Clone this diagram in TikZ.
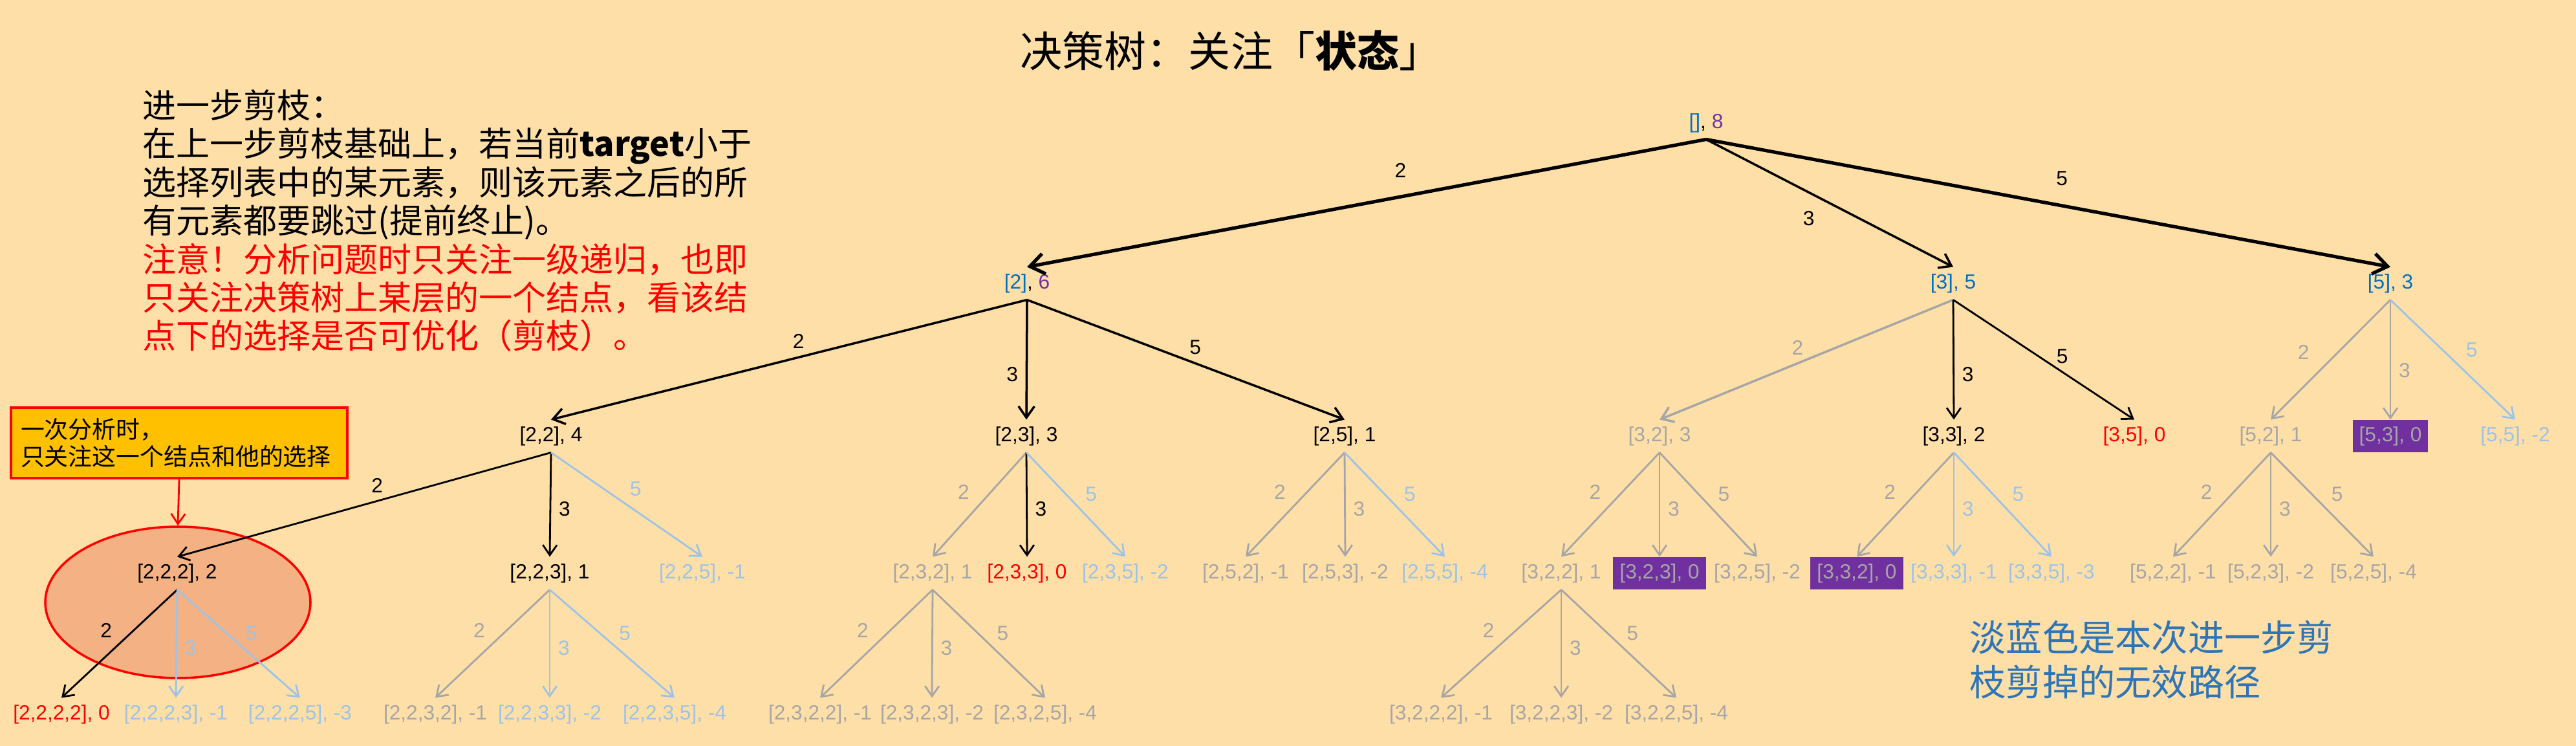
\documentclass[tikz,border=0pt]{standalone}
\usepackage{fontspec}
\setmainfont{Noto Sans CJK SC}
\newfontfamily\lblfont{Liberation Sans}
\usetikzlibrary{arrows.meta}
\usetikzlibrary{shapes.geometric}
\definecolor{bgcol}{HTML}{FFDFA8}
\definecolor{nblue}{HTML}{0070C0}
\definecolor{npurple}{HTML}{7030A0}
\definecolor{ngray}{HTML}{A6A6A6}
\definecolor{nlblue}{HTML}{9DC3E6}
\definecolor{nred}{HTML}{FF0000}
\definecolor{tipfill}{HTML}{FFC000}
\definecolor{focusfill}{HTML}{F4B183}
\definecolor{notecol}{HTML}{2E75B6}

\begin{document}
\begin{tikzpicture}[font=\lblfont\fontsize{9pt}{10.5pt}\selectfont]
                \tikzstyle{st} = [inner sep=0.1cm]
                \tikzstyle{stgray} = [st, text=ngray]
                \tikzstyle{stlb} = [st, text=nlblue]
                \tikzstyle{stred} = [st, text=nred]
                \tikzstyle{stdup} = [st, fill=npurple, text=ngray]
                \tikzstyle{stroot} = [st, text=nblue]
                \tikzstyle{br} = [-{Straight Barb[length=2.5pt 2.5, width=3pt 4]}, line width=0.8pt]
                \tikzstyle{brgray} = [br, ngray]
                \tikzstyle{brlb} = [br, nlblue]
                \tikzstyle{l2} = [pos=0.38, left=0.2cm]
                \tikzstyle{l3} = [pos=0.54, right]
                \tikzstyle{l5} = [pos=0.4, right=0.17cm]
                \tikzstyle{cjk} = [font=\rmfamily]
                % background
                \fill[bgcol] (0,0) rectangle (39.83,-11.53);
                % texts
                \node[cjk, font=\rmfamily\fontsize{18.5pt}{22pt}\selectfont] (title) at (19.03,-0.78) {决策树：关注「\textbf{状态}」};
                \node[anchor=north west, inner sep=0pt, align=left, font=\rmfamily\fontsize{14.8pt}{16.9pt}\selectfont] (intro) at (2.20,-1.38) {进一步剪枝：\\在上一步剪枝基础上，若当前\textbf{target}小于\\选择列表中的某元素，则该元素之后的所\\有元素都要跳过(提前终止)。\\\textcolor{nred}{注意！分析问题时只关注一级递归，也即}\\\textcolor{nred}{只关注决策树上某层的一个结点，看该结}\\\textcolor{nred}{点下的选择是否可优化（剪枝）。}};
                \node[anchor=north west, inner sep=0pt, align=left, text=notecol, font=\rmfamily\fontsize{16pt}{19.8pt}\selectfont] (note) at (30.45,-9.58) {淡蓝色是本次进一步剪\\枝剪掉的无效路径};
                % focus
                \node[ellipse, draw=nred, fill=focusfill, line width=1pt, minimum width=4.1cm, minimum height=2.34cm, inner sep=0pt] (focus) at (2.75,-9.31) {};
                \node[draw=nred, fill=tipfill, line width=1.2pt, text width=4.9cm, align=left, minimum height=1.09cm, inner xsep=0.15cm, font=\rmfamily\fontsize{10.5pt}{12.2pt}\selectfont] (tip) at (2.77,-6.845) {一次分析时，\\只关注这一个结点和他的选择};
                \draw[-{Straight Barb[length=2.5pt 2.5, width=3pt 4]}, nred, line width=0.8pt] (tip.south) -- (focus.north);
                % level 0 and 1
                \node[st] (r) at (26.38,-1.90) {\textcolor{nblue}{[]}, \textcolor{npurple}{8}};
                \node[st] (s2) at (15.88,-4.38) {\textcolor{nblue}{[2]}, \textcolor{npurple}{6}};
                \node[stroot] (s3) at (30.20,-4.38) {[3], 5};
                \node[stroot] (s5) at (36.96,-4.38) {[5], 3};
                % level 2
                \node[st] (s22) at (8.52,-6.74) {[2,2], 4};
                \node[st] (s23) at (15.87,-6.74) {[2,3], 3};
                \node[st] (s25) at (20.79,-6.74) {[2,5], 1};
                \node[stgray] (s32) at (25.66,-6.74) {[3,2], 3};
                \node[st] (s33) at (30.21,-6.74) {[3,3], 2};
                \node[stred] (s35) at (33.00,-6.74) {[3,5], 0};
                \node[stgray] (s52) at (35.11,-6.74) {[5,2], 1};
                \node[stdup] (s53) at (36.96,-6.74) {[5,3], 0};
                \node[stlb] (s55) at (38.89,-6.74) {[5,5], -2};
                % level 3
                \node[st] (s222) at (2.74,-8.86) {[2,2,2], 2};
                \node[st] (s223) at (8.50,-8.86) {[2,2,3], 1};
                \node[stlb] (s225) at (10.86,-8.86) {[2,2,5], -1};
                \node[stgray] (s232) at (14.42,-8.86) {[2,3,2], 1};
                \node[stred] (s233) at (15.88,-8.86) {[2,3,3], 0};
                \node[stlb] (s235) at (17.40,-8.86) {[2,3,5], -2};
                \node[stgray] (s252) at (19.26,-8.86) {[2,5,2], -1};
                \node[stgray] (s253) at (20.80,-8.86) {[2,5,3], -2};
                \node[stlb] (s255) at (22.34,-8.86) {[2,5,5], -4};
                \node[stgray] (s322) at (24.14,-8.86) {[3,2,2], 1};
                \node[stdup] (s323) at (25.66,-8.86) {[3,2,3], 0};
                \node[stgray] (s325) at (27.17,-8.86) {[3,2,5], -2};
                \node[stdup] (s332) at (28.71,-8.86) {[3,3,2], 0};
                \node[stlb] (s333) at (30.21,-8.86) {[3,3,3], -1};
                \node[stlb] (s335) at (31.72,-8.86) {[3,3,5], -3};
                \node[stgray] (s522) at (33.60,-8.86) {[5,2,2], -1};
                \node[stgray] (s523) at (35.11,-8.86) {[5,2,3], -2};
                \node[stgray] (s525) at (36.70,-8.86) {[5,2,5], -4};
                % level 4
                \node[stred] (s2222) at (0.95,-11.04) {[2,2,2,2], 0};
                \node[stlb] (s2223) at (2.72,-11.04) {[2,2,2,3], -1};
                \node[stlb] (s2225) at (4.64,-11.04) {[2,2,2,5], -3};
                \node[stgray] (s2232) at (6.73,-11.04) {[2,2,3,2], -1};
                \node[stlb] (s2233) at (8.50,-11.04) {[2,2,3,3], -2};
                \node[stlb] (s2235) at (10.43,-11.04) {[2,2,3,5], -4};
                \node[stgray] (s2322) at (12.68,-11.04) {[2,3,2,2], -1};
                \node[stgray] (s2323) at (14.41,-11.04) {[2,3,2,3], -2};
                \node[stgray] (s2325) at (16.16,-11.04) {[2,3,2,5], -4};
                \node[stgray] (s3222) at (22.28,-11.04) {[3,2,2,2], -1};
                \node[stgray] (s3223) at (24.14,-11.04) {[3,2,2,3], -2};
                \node[stgray] (s3225) at (25.92,-11.04) {[3,2,2,5], -4};
                % branches 0 -> 1
                \draw[br, line width=1.5pt] (r.south) -- node[pos=0.45, above=0.15cm] {2} (s2.north);
                \draw[br, line width=1pt] (r.south) -- node[pos=0.62, left=0.56cm] {3} (s3.north);
                \draw[br, line width=1.5pt] (r.south) -- node[pos=0.52, above=0.17cm] {5} (s5.north);
                % branches 1 -> 2
                \draw[br, line width=1pt] (s2.south) -- node[pos=0.48, above] {2} (s22.north);
                \draw[br, line width=1pt] (s2.south) -- node[pos=0.62, left] {3} (s23.north);
                \draw[br, line width=1pt] (s2.south) -- node[pos=0.53, above] {5} (s25.north);
                \draw[brgray, line width=1pt] (s3.south) -- node[pos=0.53, above] {2} (s32.north);
                \draw[br] (s3.south) -- node[pos=0.62, right] {3} (s33.north);
                \draw[br] (s3.south) -- node[pos=0.47, right=0.15cm] {5} (s35.north);
                \draw[brgray] (s5.south) -- node[pos=0.44, left=0.31cm] {2} (s52.north);
                \draw[brgray] (s5.south) -- node[pos=0.59, right] {3} (s53.north);
                \draw[brlb] (s5.south) -- node[pos=0.42, right=0.23cm] {5} (s55.north);
                % branches 2 -> 3
                \draw[br] (s22.south) -- node[pos=0.465, above] {2} (s222.north);
                \draw[br] (s22.south) -- node[l3] {3} (s223.north);
                \draw[brlb] (s22.south) -- node[pos=0.35, right=0.27cm] {5} (s225.north);
                \draw[brgray] (s23.south) -- node[l2] {2} (s232.north);
                \draw[br] (s23.south) -- node[l3] {3} (s233.north);
                \draw[brlb] (s23.south) -- node[l5] {5} (s235.north);
                \draw[brgray] (s25.south) -- node[l2] {2} (s252.north);
                \draw[brgray] (s25.south) -- node[l3] {3} (s253.north);
                \draw[brlb] (s25.south) -- node[l5] {5} (s255.north);
                \draw[brgray] (s32.south) -- node[l2] {2} (s322.north);
                \draw[brgray] (s32.south) -- node[l3] {3} (s323.north);
                \draw[brgray] (s32.south) -- node[l5] {5} (s325.north);
                \draw[brgray] (s33.south) -- node[l2] {2} (s332.north);
                \draw[brlb] (s33.south) -- node[l3] {3} (s333.north);
                \draw[brlb] (s33.south) -- node[l5] {5} (s335.north);
                \draw[brgray] (s52.south) -- node[l2] {2} (s522.north);
                \draw[brgray] (s52.south) -- node[l3] {3} (s523.north);
                \draw[brgray] (s52.south) -- node[l5] {5} (s525.north);
                % branches 3 -> 4
                \draw[br] (s222.south) -- node[l2] {2} (s2222.north);
                \draw[brlb] (s222.south) -- node[l3] {3} (s2223.north);
                \draw[brlb] (s222.south) -- node[l5] {5} (s2225.north);
                \draw[brgray] (s223.south) -- node[l2] {2} (s2232.north);
                \draw[brlb] (s223.south) -- node[l3] {3} (s2233.north);
                \draw[brlb] (s223.south) -- node[l5] {5} (s2235.north);
                \draw[brgray] (s232.south) -- node[l2] {2} (s2322.north);
                \draw[brgray] (s232.south) -- node[l3] {3} (s2323.north);
                \draw[brgray] (s232.south) -- node[l5] {5} (s2325.north);
                \draw[brgray] (s322.south) -- node[l2] {2} (s3222.north);
                \draw[brgray] (s322.south) -- node[l3] {3} (s3223.north);
                \draw[brgray] (s322.south) -- node[l5] {5} (s3225.north);
            \end{tikzpicture}
\end{document}
